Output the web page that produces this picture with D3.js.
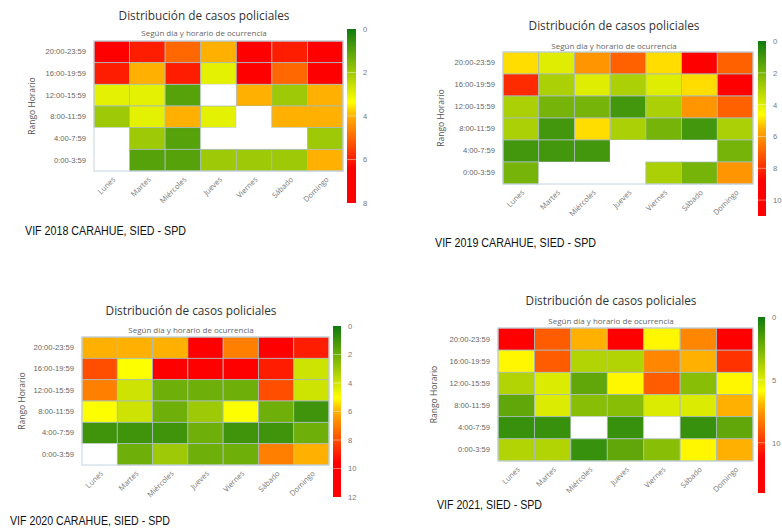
<!DOCTYPE html>
<html>
<head>
<meta charset="utf-8">
<script src="https://cdn.jsdelivr.net/npm/d3@7"></script>
<style>
  body { margin: 0; background: #fff; }
  svg { display: block; font-family: "Open Sans", "DejaVu Sans", sans-serif; }
</style>
</head>
<body>
<script>
var days = ["Lunes", "Martes", "Miércoles", "Jueves", "Viernes", "Sábado", "Domingo"]
var hours = ["20:00-23:59", "16:00-19:59", "12:00-15:59", "8:00-11:59", "4:00-7:59", "0:00-3:59"]

// rows go top to bottom (same order as hours), null = no cases
var vif2018 = [
    [8, 6, 5, 4, 8, 6, 7],
    [6, 4, 6, 3, 8, 5, 7],
    [3, 3, 1, null, 4, 2, 4],
    [2, 3, 4, 3, null, 4, 4],
    [null, 2, 1, null, null, null, 2],
    [null, 1, 1, 2, 2, 2, 4]
]
var vif2019 = [
    [5, 4, 6, 7, 5, 11, 7],
    [8, 3, 4, 3, 4, 5, 11],
    [3, 2, 2, 1, 3, 6, 7],
    [3, 1, 5, 3, 2, 1, 3],
    [1, 1, 1, null, null, null, 2],
    [2, null, null, null, 3, 2, 6]
]
var vif2020 = [
    [6, 6, 6, 11, 7, 11, 9],
    [8, 5, 11, 11, 12, 9, 4],
    [7, 4, 2, 2, 2, 8, 4],
    [5, 4, 2, 3, 5, 2, 1],
    [1, 1, 1, 2, 1, 1, 2],
    [null, 2, 3, 2, 2, 7, 6]
]
var vif2021 = [
    [14, 9, 7, 13, 6, 8, 14],
    [6, 9, 4, 4, 8, 7, 10],
    [4, 5, 2, 6, 9, 3, 6],
    [2, 5, 3, 3, 5, 5, 7],
    [1, 1, null, 1, null, 1, 2],
    [4, 4, 1, 2, 3, 6, 7]
]
var colorMax = [8, 11, 12, 14]
var colorTicks = [[0, 2, 4, 6, 8], [0, 2, 4, 6, 8, 10], [0, 2, 4, 6, 8, 10, 12], [0, 5, 10]]
var captions = ["VIF 2018 CARAHUE, SIED - SPD", "VIF 2019 CARAHUE, SIED - SPD",
    "VIF 2020 CARAHUE, SIED - SPD", "VIF 2021, SIED - SPD"]

var title = "Distribución de casos policiales"
var subtitle = "Según día y horario de ocurrencia"

// color stops as fraction of the axis max
var stopAt = [0, 0.42, 0.5, 0.8, 1]
var stopColor = ["#0f7a0f", "#ffff00", "#ffb000", "#ff0000", "#ff0000"]

// where each of the 4 pasted charts sits on the page
var layout = [
    { tx: 204, ty: 16, sy: 33, g: [94, 41, 343, 171], cb: [347, 29, 356, 203], yt: 32, cap: [25, 231, 161] },
    { tx: 614, ty: 26, sy: 46, g: [503, 52, 753, 184], cb: [758, 41, 766, 216], yt: 441, cap: [435, 243, 161] },
    { tx: 191, ty: 311, sy: 330, g: [82, 337, 329, 465], cb: [333, 326, 341, 497], yt: 22, cap: [10, 521, 160] },
    { tx: 611, ty: 301, sy: 321, g: [498, 328, 753, 461], cb: [758, 317, 765, 493], yt: 434, cap: [437, 505, 105] }
]
var allData = [vif2018, vif2019, vif2020, vif2021]

const width = 782
const height = 531

var svg = d3.select("body").append("svg").attr("width", width).attr("height", height)
var defs = svg.append("defs")

allData.forEach(function(data, p) {
    var L = layout[p]
    var max = colorMax[p]
    var color = d3.scaleLinear().domain(stopAt.map(f => f * max)).range(stopColor)

    var g = svg.append("g")

    g.append("text").attr("x", L.tx).attr("y", L.ty).attr("dy", "0.35em")
        .attr("text-anchor", "middle").attr("font-size", 11.8).attr("fill", "#333").text(title)
    g.append("text").attr("x", L.tx).attr("y", L.sy).attr("dy", "0.35em")
        .attr("text-anchor", "middle").attr("font-size", 8).attr("fill", "#666").text(subtitle)

    var x = d3.scaleBand().domain(days).range([L.g[0], L.g[2]])
    var y = d3.scaleBand().domain(hours).range([L.g[1], L.g[3]])

    var cells = []
    data.forEach((row, r) => row.forEach((v, c) => cells.push({ day: days[c], hour: hours[r], v: v })))

    g.selectAll("rect.cell").data(cells).enter().append("rect")
        .attr("class", "cell")
        .attr("x", d => x(d.day))
        .attr("y", d => y(d.hour))
        .attr("width", x.bandwidth())
        .attr("height", y.bandwidth())
        .attr("fill", d => d.v == null ? "#fff" : color(d.v))
        .attr("stroke", d => d.v == null ? "none" : "#a9bcbc")
        .attr("stroke-width", 0.8)

    g.append("rect").attr("x", L.g[0]).attr("y", L.g[1])
        .attr("width", L.g[2] - L.g[0]).attr("height", L.g[3] - L.g[1])
        .attr("fill", "none").attr("stroke", "#c6d4e0").attr("stroke-width", 1)

    // y axis labels
    var yAxis = g.append("g").attr("transform", "translate(" + L.g[0] + ",0)")
        .call(d3.axisLeft(y).tickSize(0).tickPadding(8))
    yAxis.select(".domain").remove()
    yAxis.selectAll("text").attr("font-size", 7.6).attr("fill", "#666").attr("font-family", null)

    g.append("text")
        .attr("transform", "translate(" + L.yt + "," + ((L.g[1] + L.g[3]) / 2) + ") rotate(-90)")
        .attr("text-anchor", "middle").attr("dy", "0.35em")
        .attr("font-size", 8.5).attr("fill", "#555").text("Rango Horario")

    // x axis labels, rotated
    g.selectAll("text.xl").data(days).enter().append("text")
        .attr("class", "xl")
        .attr("transform", d => "translate(" + (x(d) + x.bandwidth() / 2 + 4) + "," + (L.g[3] + 9) + ") rotate(-45)")
        .attr("text-anchor", "end")
        .attr("font-size", 7.5).attr("fill", "#777").text(d => d)

    // color bar
    var gid = "grad" + p
    var grad = defs.append("linearGradient").attr("id", gid)
        .attr("x1", 0).attr("y1", 0).attr("x2", 0).attr("y2", 1)
    grad.selectAll("stop").data(stopAt).enter().append("stop")
        .attr("offset", d => d).attr("stop-color", (d, i) => stopColor[i])

    var cy = d3.scaleLinear().domain([0, max]).range([L.cb[1], L.cb[3]])
    g.append("rect").attr("x", L.cb[0]).attr("y", L.cb[1])
        .attr("width", L.cb[2] - L.cb[0]).attr("height", L.cb[3] - L.cb[1])
        .attr("fill", "url(#" + gid + ")")

    g.selectAll("line.cg").data(colorTicks[p].filter(t => t > 0 && t < max)).enter().append("line")
        .attr("class", "cg")
        .attr("x1", L.cb[0]).attr("x2", L.cb[2])
        .attr("y1", d => cy(d)).attr("y2", d => cy(d))
        .attr("stroke", "#fff").attr("stroke-opacity", 0.55).attr("stroke-width", 0.8)

    var cAxis = g.append("g").attr("transform", "translate(" + L.cb[2] + ",0)")
        .call(d3.axisRight(cy).tickValues(colorTicks[p]).tickSize(0).tickPadding(7).tickFormat(d3.format("d")))
    cAxis.select(".domain").remove()
    cAxis.selectAll("text").attr("font-size", 7.6).attr("fill", "#777").attr("font-family", null)

    // caption under each pasted chart
    g.append("text").attr("x", L.cap[0]).attr("y", L.cap[1]).attr("dy", "0.35em")
        .attr("font-family", "'Liberation Sans', Arial, sans-serif")
        .attr("font-size", 12).attr("fill", "#111")
        .attr("textLength", L.cap[2]).attr("lengthAdjust", "spacingAndGlyphs")
        .text(captions[p])
})
</script>
</body>
</html>
